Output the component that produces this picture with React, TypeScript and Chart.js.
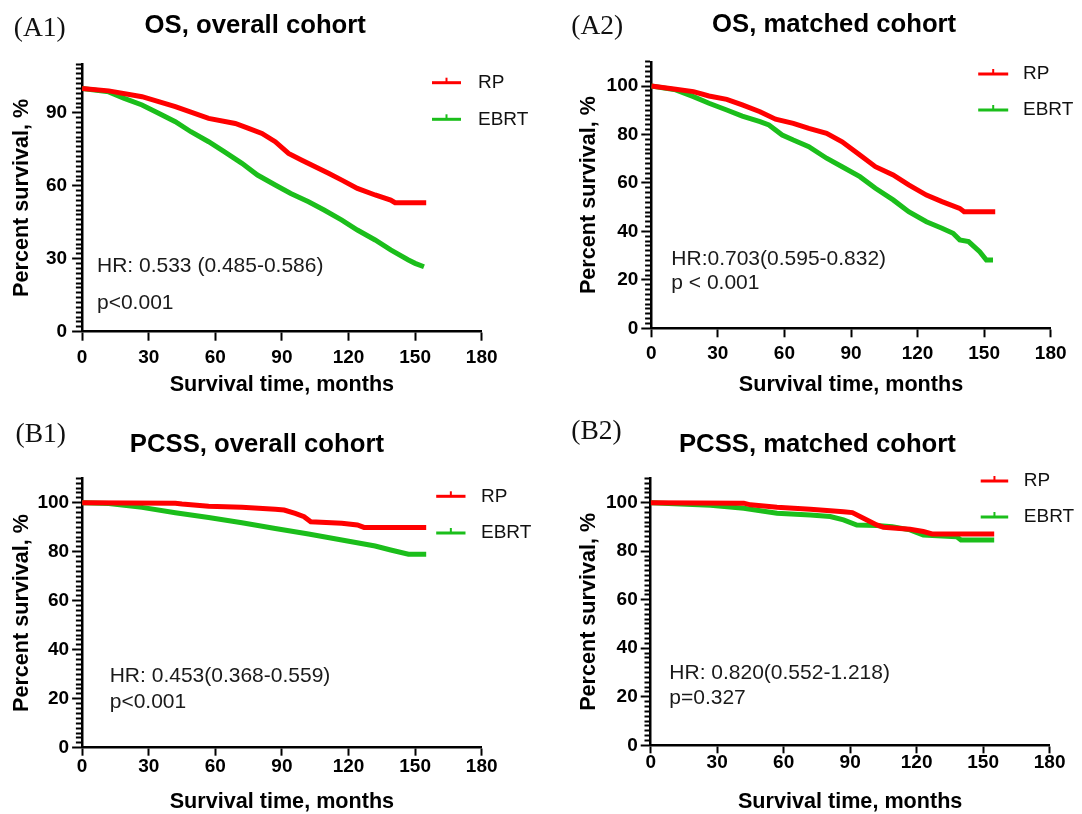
import React, { useEffect, useRef } from 'react';
import { Chart, registerables } from 'chart.js';

Chart.register(...registerables);

// ---------------- DATA ----------------
// A1: OS, overall cohort
const a1RpMonths = [0, 12, 27, 42, 57, 69, 75, 81, 87, 93, 99, 105, 111, 117, 124, 132, 139, 141, 155];
const a1RpSurv = [100, 99.0, 96.6, 92.5, 87.7, 85.6, 83.6, 81.5, 78.1, 73.3, 70.5, 67.8, 65.1, 62.3, 58.9, 56.2, 54.1, 53.0, 53.0];
const a1EbrtMonths = [0, 12, 19, 27, 34, 42, 49, 57, 64, 72, 79, 87, 94, 102, 109, 117, 124, 132, 139, 147, 150, 154];
const a1EbrtSurv = [100, 98.6, 95.9, 93.2, 90.0, 86.3, 82.2, 78.1, 74.0, 69.2, 64.4, 60.3, 56.8, 53.4, 50.0, 45.9, 41.8, 37.7, 33.6, 29.5, 28.1, 26.7];

// A2: OS, matched cohort
const a2RpMonths = [0, 11, 19, 26, 34, 41, 49, 56, 64, 71, 79, 86, 94, 101, 109, 116, 124, 131, 139, 141, 155];
const a2RpSurv = [100, 98.7, 97.7, 95.9, 94.5, 92.2, 89.4, 86.3, 84.6, 82.5, 80.5, 77.0, 71.5, 66.7, 63.3, 59.2, 55.0, 52.3, 49.5, 48.1, 48.1];
const a2EbrtMonths = [0, 11, 19, 26, 34, 41, 49, 53, 59, 64, 71, 79, 86, 94, 101, 109, 116, 124, 131, 136, 139, 143, 148, 151, 154];
const a2EbrtSurv = [100, 98.4, 95.6, 92.9, 90.1, 87.6, 85.3, 83.9, 79.8, 77.7, 75.0, 70.2, 66.7, 62.6, 57.8, 53.0, 48.1, 44.0, 41.3, 39.2, 36.5, 35.8, 31.6, 28.2, 28.2];

// B1: PCSS, overall cohort
const b1RpMonths = [0, 42, 45, 57, 72, 87, 91, 96, 100, 103, 117, 124, 127, 155];
const b1RpSurv = [100, 99.8, 99.5, 98.6, 98.1, 97.3, 97.0, 95.6, 94.3, 92.2, 91.6, 90.9, 89.9, 89.9];
const b1EbrtMonths = [0, 12, 27, 42, 57, 72, 87, 102, 117, 132, 139, 147, 155];
const b1EbrtSurv = [100, 99.7, 98.1, 95.9, 94.0, 91.8, 89.5, 87.2, 84.8, 82.3, 80.7, 79.0, 79.0];

// B2: PCSS, matched cohort
const b2RpMonths = [0, 42, 45, 57, 72, 87, 91, 96, 102, 105, 117, 123, 127, 155];
const b2RpSurv = [100, 99.8, 99.1, 98.1, 97.3, 96.3, 95.9, 93.6, 90.8, 89.9, 89.0, 88.1, 87.1, 87.1];
const b2EbrtMonths = [0, 27, 42, 57, 72, 81, 87, 93, 102, 109, 117, 123, 138, 140, 155];
const b2EbrtSurv = [100, 98.9, 97.7, 95.6, 94.9, 94.3, 92.9, 90.8, 90.6, 90.1, 88.8, 86.7, 86.0, 84.6, 84.6];

// Axis ticks
const xTickValues = [0, 30, 60, 90, 120, 150, 180];
const yMajorOS = [0, 30, 60, 90];
const yMajor20 = [0, 20, 40, 60, 80, 100];
const yMinorStep = 2;
const yMax = 110;
const xMax = 180;

const seriesLabels = ['RP', 'EBRT'];
const xTitle = 'Survival time, months';
const yTitle = 'Percent survival, %';

// ---------------- STYLE ----------------
const RED = '#FF0000';
const GREEN = '#1BBE1B';
const FONT = '"Liberation Sans", Arial, Helvetica, sans-serif';
const SERIF = '"Liberation Serif", "Times New Roman", serif';
const CW = 541;
const CH = 407;

type Note = { text: string; x: number; y: number };
type PanelCfg = {
  left: number; top: number;
  L: number; R: number; T: number; B: number;
  yMajor: number[];
  title: string; titleX: number; titleY: number;
  tag: string; tagX: number; tagY: number;
  legX1: number; legX2: number; legTextX: number; rpY: number; ebrtY: number;
  notes: Note[];
  yTitleX: number; xTitleY: number;
  xTickLen: number; xTickPad: number; yTickPad: number;
  rp: [number[], number[]]; ebrt: [number[], number[]];
};

const panels: PanelCfg[] = [
  {
    left: 0, top: 0, L: 82.1, R: 481.7, T: 64.1, B: 331.7, yMajor: yMajorOS,
    title: 'OS, overall cohort', titleX: 255.2, titleY: 25.8,
    tag: '(A1)', tagX: 13.8, tagY: 28.3,
    legX1: 432, legX2: 461, legTextX: 478, rpY: 82.7, ebrtY: 119.3,
    notes: [{ text: 'HR: 0.533 (0.485-0.586)', x: 97, y: 266.7 }, { text: 'p<0.001', x: 97, y: 303.3 }],
    yTitleX: 22.4, xTitleY: 385, xTickLen: 9, xTickPad: 7.3, yTickPad: 5,
    rp: [a1RpMonths, a1RpSurv], ebrt: [a1EbrtMonths, a1EbrtSurv],
  },
  {
    left: 541, top: 0, L: 110.3, R: 509.7, T: 61.8, B: 328.3, yMajor: yMajor20,
    title: 'OS, matched cohort', titleX: 293.1, titleY: 25,
    tag: '(A2)', tagX: 30.3, tagY: 26.7,
    legX1: 437.2, legX2: 467.2, legTextX: 482, rpY: 74, ebrtY: 110,
    notes: [{ text: 'HR:0.703(0.595-0.832)', x: 130.3, y: 259.3 }, { text: 'p < 0.001', x: 130.3, y: 283.3 }],
    yTitleX: 48.3, xTitleY: 385, xTickLen: 9, xTickPad: 7.2, yTickPad: 3,
    rp: [a2RpMonths, a2RpSurv], ebrt: [a2EbrtMonths, a2EbrtSurv],
  },
  {
    left: 0, top: 407, L: 82.1, R: 481.7, T: 71.2, B: 340.7, yMajor: yMajor20,
    title: 'PCSS, overall cohort', titleX: 256.9, titleY: 38.3,
    tag: '(B1)', tagX: 15.5, tagY: 28,
    legX1: 436.2, legX2: 465.5, legTextX: 481, rpY: 89.3, ebrtY: 126,
    notes: [{ text: 'HR: 0.453(0.368-0.559)', x: 109.7, y: 269.3 }, { text: 'p<0.001', x: 109.7, y: 295 }],
    yTitleX: 22.4, xTitleY: 395, xTickLen: 8, xTickPad: 1.5, yTickPad: 3,
    rp: [b1RpMonths, b1RpSurv], ebrt: [b1EbrtMonths, b1EbrtSurv],
  },
  {
    left: 541, top: 407, L: 109.7, R: 508.6, T: 71.4, B: 338.3, yMajor: yMajor20,
    title: 'PCSS, matched cohort', titleX: 276.4, titleY: 38.3,
    tag: '(B2)', tagX: 30.3, tagY: 25,
    legX1: 439.7, legX2: 467.2, legTextX: 482.8, rpY: 74, ebrtY: 110,
    notes: [{ text: 'HR: 0.820(0.552-1.218)', x: 128.3, y: 266.7 }, { text: 'p=0.327', x: 128.3, y: 291.7 }],
    yTitleX: 48.3, xTitleY: 395, xTickLen: 8, xTickPad: 0.2, yTickPad: 3,
    rp: [b2RpMonths, b2RpSurv], ebrt: [b2EbrtMonths, b2EbrtSurv],
  },
];

function toPoints(months: number[], surv: number[]) {
  return months.map((m, i) => ({ x: m, y: surv[i] }));
}

function yTickList(): number[] {
  const out: number[] = [];
  for (let v = 0; v <= yMax; v += yMinorStep) out.push(v);
  return out;
}

function Panel({ cfg }: { cfg: PanelCfg }) {
  const ref = useRef<HTMLCanvasElement>(null);

  useEffect(() => {
    const canvas = ref.current;
    if (!canvas) return;

    const decor = {
      id: 'decor',
      afterDraw(chart: any) {
        const ctx = chart.ctx as CanvasRenderingContext2D;
        ctx.save();
        // panel tag
        ctx.fillStyle = '#111';
        ctx.textBaseline = 'middle';
        ctx.textAlign = 'left';
        ctx.font = `27.5px ${SERIF}`;
        ctx.fillText(cfg.tag, cfg.tagX, cfg.tagY);
        // title
        ctx.fillStyle = '#000';
        ctx.textAlign = 'center';
        ctx.font = `bold 25.7px ${FONT}`;
        ctx.fillText(cfg.title, cfg.titleX, cfg.titleY);
        // legend
        const items = [
          { label: seriesLabels[0], color: RED, y: cfg.rpY },
          { label: seriesLabels[1], color: GREEN, y: cfg.ebrtY },
        ];
        items.forEach((it) => {
          ctx.strokeStyle = it.color;
          ctx.lineWidth = 3;
          ctx.beginPath();
          ctx.moveTo(cfg.legX1, it.y);
          ctx.lineTo(cfg.legX2, it.y);
          ctx.stroke();
          const mid = (cfg.legX1 + cfg.legX2) / 2;
          ctx.lineWidth = 2;
          ctx.beginPath();
          ctx.moveTo(mid, it.y - 5);
          ctx.lineTo(mid, it.y);
          ctx.stroke();
          ctx.fillStyle = '#111';
          ctx.textAlign = 'left';
          ctx.font = `19px ${FONT}`;
          ctx.fillText(it.label, cfg.legTextX, it.y);
        });
        // annotations
        ctx.fillStyle = '#1a1a1a';
        ctx.font = `21px ${FONT}`;
        ctx.textAlign = 'left';
        cfg.notes.forEach((n) => ctx.fillText(n.text, n.x, n.y));
        ctx.restore();
      },
    };

    const chart = new Chart(canvas, {
      type: 'line',
      data: {
        datasets: [
          {
            label: seriesLabels[0],
            data: toPoints(cfg.rp[0], cfg.rp[1]),
            borderColor: RED,
            backgroundColor: RED,
            borderWidth: 5,
            pointRadius: 0,
            tension: 0,
            fill: false,
          },
          {
            label: seriesLabels[1],
            data: toPoints(cfg.ebrt[0], cfg.ebrt[1]),
            borderColor: GREEN,
            backgroundColor: GREEN,
            borderWidth: 5,
            pointRadius: 0,
            tension: 0,
            fill: false,
          },
        ],
      },
      options: {
        animation: false,
        responsive: false,
        maintainAspectRatio: false,
        layout: { padding: { top: cfg.T, right: CW - cfg.R, bottom: 0, left: 0 } },
        plugins: {
          legend: { display: false },
          title: { display: false },
          tooltip: { enabled: false },
        },
        scales: {
          x: {
            type: 'linear',
            min: 0,
            max: xMax,
            afterBuildTicks: (s: any) => {
              s.ticks = xTickValues.map((v) => ({ value: v }));
            },
            afterFit: (s: any) => {
              s.height = CH - cfg.B;
            },
            ticks: {
              autoSkip: false,
              maxRotation: 0,
              color: '#000',
              padding: cfg.xTickPad,
              font: { family: FONT, size: 19, weight: 'bold', lineHeight: 1 },
              callback: (v: any) => String(v),
            },
            grid: {
              drawOnChartArea: false,
              drawTicks: true,
              tickLength: cfg.xTickLen,
              tickWidth: 2,
              tickColor: '#000',
            },
            border: { display: true, color: '#000', width: 2.5 },
            title: {
              display: true,
              text: xTitle,
              color: '#000',
              font: { family: FONT, size: 21.6, weight: 'bold', lineHeight: 1 },
              padding: { top: 0, bottom: CH - cfg.xTitleY - 10.8 },
            },
          },
          y: {
            type: 'linear',
            min: 0,
            max: yMax,
            afterBuildTicks: (s: any) => {
              s.ticks = yTickList().map((v) => ({ value: v }));
            },
            afterFit: (s: any) => {
              s.width = cfg.L;
            },
            ticks: {
              autoSkip: false,
              color: '#000',
              padding: cfg.yTickPad,
              font: { family: FONT, size: 19, weight: 'bold' },
              callback: (v: any) => (cfg.yMajor.includes(Number(v)) ? String(v) : ''),
            },
            grid: {
              drawOnChartArea: false,
              drawTicks: true,
              tickLength: 10,
              tickWidth: 2,
              tickColor: '#000',
              tickBorderDash: (c: any) =>
                c.tick && cfg.yMajor.includes(c.tick.value) ? [] : [0, 3.8, 6, 100],
            },
            border: { display: true, color: '#000', width: 2.5 },
            title: {
              display: true,
              text: yTitle,
              color: '#000',
              font: { family: FONT, size: 21.6, weight: 'bold', lineHeight: 1 },
              padding: { top: cfg.yTitleX - 10.8, bottom: 0 },
            },
          },
        },
      },
      plugins: [decor],
    } as any);

    return () => chart.destroy();
  }, [cfg]);

  return (
    <canvas
      ref={ref}
      width={CW}
      height={CH}
      style={{ position: 'absolute', left: cfg.left, top: cfg.top, width: CW, height: CH }}
    />
  );
}

export default function App() {
  return (
    <div style={{ position: 'absolute', left: 0, top: 0, width: 1082, height: 814, background: '#fff', overflow: 'hidden' }}>
      {panels.map((p) => (
        <Panel key={p.tag} cfg={p} />
      ))}
    </div>
  );
}
